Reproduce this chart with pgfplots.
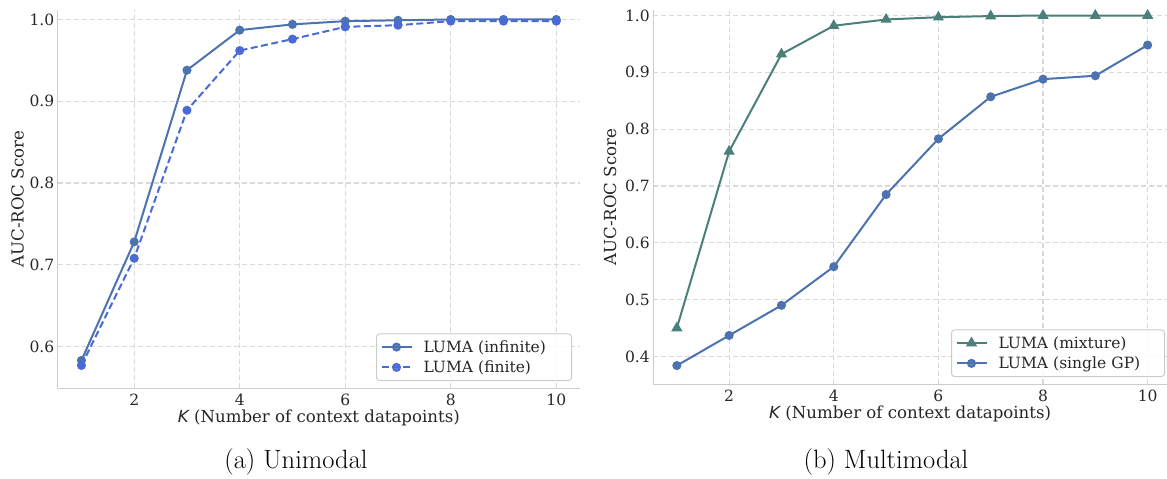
\documentclass[border=0pt]{standalone}
\usepackage{pgfplots}
\pgfplotsset{compat=1.18}
\usepackage{fontspec}
\newfontfamily\dvserif{DejaVu Serif}
\newfontfamily\dvsans{DejaVu Sans}
\definecolor{cinf}{HTML}{4C72B0}
\definecolor{cfin}{HTML}{4A6BD6}
\definecolor{cmix}{HTML}{4A8079}
\definecolor{gridc}{HTML}{D9D9D9}
\definecolor{spinec}{HTML}{CCCCCC}
\definecolor{txt}{HTML}{262626}
\newcommand{\lblfont}{\dvserif\fontsize{15.5}{18}\selectfont\color{txt}}
\newcommand{\axlblfont}{\dvserif\fontsize{16.6}{19}\selectfont\color{txt}}
\pgfplotsset{
  myaxis/.style={
    scale only axis,
    axis x line*=bottom,
    axis y line*=left,
    axis line style={-, draw=spinec, line width=1.3pt},
    major tick length=0pt,
    grid=major,
    major grid style={gridc, dash pattern=on 5pt off 3pt, line width=1.2pt},
    tick label style={font=\lblfont},
    /pgf/number format/assume math mode=true,
    xtick={2,4,6,8,10},
    yticklabel style={/pgf/number format/.cd, fixed, fixed zerofill, precision=1},
    xticklabel style={yshift=-2pt},
    every axis x label/.style={at={(axis description cs:0.5,0)}, anchor=center, yshift=-29.7pt, font=\axlblfont},
    legend cell align=left,
    legend style={font=\lblfont, draw=spinec, rounded corners=3pt, fill=white, fill opacity=0.85, text opacity=1, line width=1pt, inner xsep=4pt, inner ysep=4.5pt, row sep=3pt,
      /tikz/every odd column/.append style={column sep=9pt}},
    legend image code/.code={\draw[mark repeat=2,mark phase=2,##1] plot coordinates {(0pt,0pt) (15pt,0pt) (30pt,0pt)};},
    every axis plot/.append style={line width=2pt},
    xlabel={{\dvsans\itshape K} (Number of context datapoints)},
    ylabel={AUC-ROC Score},
  }
}
\begin{document}
\begin{tikzpicture}
\useasboundingbox (0pt,0pt) rectangle (1167pt,-479pt);
\begin{axis}[myaxis,
  at={(57.7pt,-10pt)}, anchor=north west,
  width=522.3pt, height=378.3pt,
  xmin=0.55, xmax=10.45, ymin=0.549, ymax=1.0116,
  ytick={0.6,0.7,0.8,0.9,1.0},
  every axis y label/.style={at={(axis description cs:-0.0766,0.5)}, rotate=90, anchor=center, font=\axlblfont},
  legend style={at={(0.9847,0.0193)}, anchor=south east,
    /tikz/every even column/.append style={text width=142pt, align=left}},
]
\addplot[cinf, mark=*, mark size=3.5pt, mark options={solid}] coordinates {
(1,0.583) (2,0.728) (3,0.938) (4,0.987) (5,0.994) (6,0.998) (7,0.999) (8,1.0) (9,1.0) (10,1.0)};
\addlegendentry{LUMA (infinite)}
\addplot[cfin, dash pattern=on 7pt off 3.5pt, mark=*, mark size=3.5pt, mark options={solid}] coordinates {
(1,0.577) (2,0.708) (3,0.889) (4,0.962) (5,0.976) (6,0.991) (7,0.993) (8,0.998) (9,0.998) (10,0.998)};
\addlegendentry{LUMA (finite)}
\end{axis}
\begin{axis}[myaxis,
  at={(653.3pt,-10pt)}, anchor=north west,
  width=513.7pt, height=374.3pt,
  xmin=0.55, xmax=10.37, ymin=0.351, ymax=1.0097,
  ytick={0.4,0.5,0.6,0.7,0.8,0.9,1.0},
  every axis y label/.style={at={(axis description cs:-0.0843,0.5)}, rotate=90, anchor=center, font=\axlblfont},
  legend style={at={(0.9961,0.0195)}, anchor=south east,
    /tikz/every even column/.append style={text width=160pt, align=left}},
]
\addplot[cmix, mark=triangle*, mark size=4.5pt] coordinates {
(1,0.450) (2,0.761) (3,0.932) (4,0.982) (5,0.993) (6,0.997) (7,0.999) (8,1.0) (9,1.0) (10,1.0)};
\addlegendentry{LUMA (mixture)}
\addplot[cinf, mark=*, mark size=3.5pt] coordinates {
(1,0.384) (2,0.437) (3,0.490) (4,0.558) (5,0.685) (6,0.783) (7,0.857) (8,0.888) (9,0.894) (10,0.948)};
\addlegendentry{LUMA (single GP)}
\end{axis}
\node[font=\fontsize{26.5}{30}\selectfont, text=black] at (296pt,-462pt) {(a) Unimodal};
\node[font=\fontsize{26.5}{30}\selectfont, text=black] at (886pt,-462pt) {(b) Multimodal};
\end{tikzpicture}
\end{document}
